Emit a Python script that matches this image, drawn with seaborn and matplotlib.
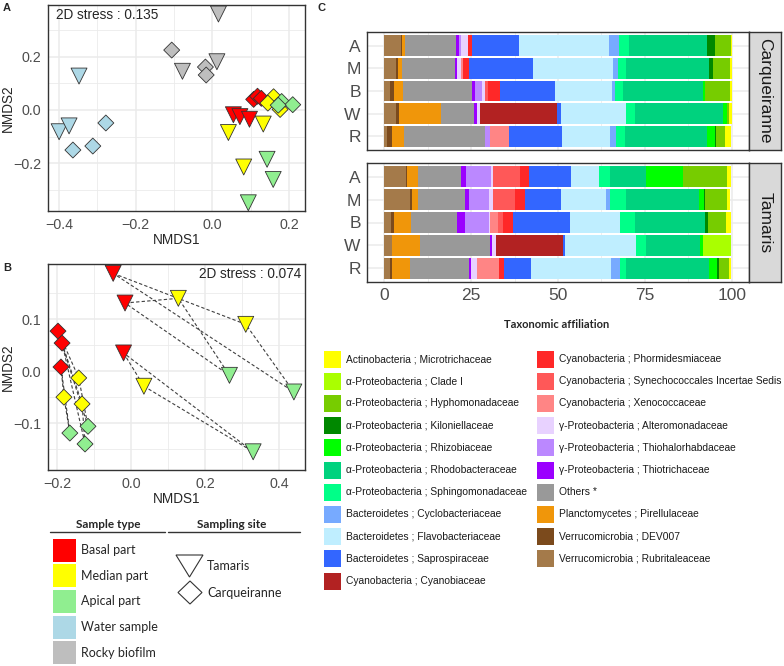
import numpy as np
import pandas as pd
import matplotlib
matplotlib.use("Agg")
import matplotlib.pyplot as plt
from matplotlib.patches import Rectangle, Polygon
import seaborn as sns

# ---------------- data : NMDS panels ----------------
type_names = ["Basal part", "Median part", "Apical part", "Water sample", "Rocky biofilm"]
type_colors = ["#FF0000", "#FFFF00", "#90EE90", "#ADD8E6", "#BEBEBE"]
site_names = ["Tamaris", "Carqueiranne"]

# panel A (all samples)
a_site = ["Tamaris"] * 15 + ["Carqueiranne"] * 15
a_type = [t for t in type_names for _ in range(3)] * 2
a_x = [0.055, 0.072, 0.097, 0.042, 0.133, 0.082, 0.143, 0.159, 0.094,
       -0.348, -0.400, -0.374, 0.016, -0.078, 0.012,
       0.108, 0.118, 0.128, 0.160, 0.145, 0.177, 0.181, 0.210, 0.172,
       -0.364, -0.312, -0.278, -0.106, -0.018, -0.016]
a_y = [-0.018, -0.025, -0.035, -0.085, -0.053, -0.215, -0.186, -0.262, -0.350,
       0.128, -0.082, -0.060, 0.362, 0.146, 0.182,
       0.040, 0.052, 0.044, 0.050, 0.026, 0.002, 0.032, 0.020, 0.018,
       -0.151, -0.136, -0.049, 0.226, 0.162, 0.132]

# panel B (macroalgae parts only), individual id links the parts
b_site = ["Tamaris"] * 9 + ["Carqueiranne"] * 9
b_type = [t for t in type_names[:3] for _ in range(3)] * 2
b_ind = [1, 2, 3] * 6
b_x = [-0.048, -0.016, -0.020, 0.310, 0.128, 0.035, 0.440, 0.266, 0.330,
       -0.197, -0.186, -0.189, -0.141, -0.132, -0.181, -0.116, -0.124, -0.165]
b_y = [0.188, 0.131, 0.035, 0.090, 0.140, -0.029, -0.040, -0.008, -0.155,
       0.077, 0.054, 0.008, -0.013, -0.063, -0.050, -0.106, -0.140, -0.119]

# ---------------- data : taxonomic bars ----------------
taxa = ["Verrucomicrobia ; Rubritaleaceae", "Verrucomicrobia ; DEV007",
        "Planctomycetes ; Pirellulaceae", "Others *",
        "\u03b3-Proteobacteria ; Thiotrichaceae", "\u03b3-Proteobacteria ; Thiohalorhabdaceae",
        "\u03b3-Proteobacteria ; Alteromonadaceae", "Cyanobacteria ; Xenococcaceae",
        "Cyanobacteria ; Synechococcales Incertae Sedis", "Cyanobacteria ; Phormidesmiaceae",
        "Cyanobacteria ; Cyanobiaceae", "Bacteroidetes ; Saprospiraceae",
        "Bacteroidetes ; Flavobacteriaceae", "Bacteroidetes ; Cyclobacteriaceae",
        "\u03b1-Proteobacteria ; Sphingomonadaceae", "\u03b1-Proteobacteria ; Rhodobacteraceae",
        "\u03b1-Proteobacteria ; Rhizobiaceae", "\u03b1-Proteobacteria ; Kiloniellaceae",
        "\u03b1-Proteobacteria ; Hyphomonadaceae", "\u03b1-Proteobacteria ; Clade I",
        "Actinobacteria ; Microtrichaceae"]
taxa_colors = ["#A47A4A", "#7B4A1C", "#F0960A", "#999999",
               "#9B00FF", "#BB88FF", "#E8D2FF", "#FF8585",
               "#FF5858", "#FF2828", "#B22222", "#3366FF",
               "#BFEEFF", "#77AAFF", "#00FF88", "#00D27E",
               "#00FF00", "#008800", "#77CC00", "#AAFF00", "#FFFF00"]
samples = ["A", "M", "B", "W", "R"]

carq_A = [4.9, 0.3, 0.6, 14.9, 0.8, 0.5, 2.1, 0, 0, 1.0, 0, 13.6, 25.9, 2.9, 2.9, 22.5, 0, 2.4, 4.6, 0, 0.1]
carq_M = [3.4, 0.5, 1.3, 15.1, 0.7, 0, 1.2, 0.3, 0, 1.9, 0, 18.4, 23.0, 1.4, 2.4, 23.9, 0, 1.1, 4.9, 0, 0.5]
carq_B = [1.7, 1.0, 2.7, 19.8, 1.0, 1.9, 0.8, 0, 1.0, 3.5, 0, 15.6, 16.5, 1.0, 2.2, 23.0, 0.7, 0, 7.2, 0, 0.4]
carq_W = [3.4, 0.7, 12.3, 9.3, 1.1, 0, 0.8, 0, 0, 0, 22.0, 1.2, 18.9, 0, 2.4, 25.4, 1.2, 0, 0.5, 0, 0.8]
carq_R = [0.8, 1.4, 3.5, 23.3, 0, 1.4, 0, 5.5, 0, 0, 0, 15.3, 13.9, 1.5, 2.8, 23.6, 2.1, 0.5, 2.6, 0, 1.6]
tam_A = [6.2, 0.3, 3.1, 12.5, 1.5, 7.2, 0.4, 0, 7.9, 2.6, 0, 12.1, 7.9, 0, 3.4, 10.1, 10.8, 0, 12.6, 0, 1.2]
tam_M = [7.5, 0.5, 1.6, 13.7, 1.2, 5.7, 1.0, 0, 6.4, 2.9, 0, 10.5, 12.7, 1.3, 4.6, 21.1, 1.4, 0.3, 6.4, 0, 0.8]
tam_B = [1.9, 1.0, 4.8, 13.2, 2.4, 6.7, 0.3, 2.4, 1.4, 2.9, 0, 16.5, 14.4, 0, 4.3, 20.1, 0, 1.0, 5.0, 0, 1.5]
tam_W = [2.2, 0, 8.0, 20.3, 0.5, 0, 1.2, 0, 0, 0, 19.3, 0.5, 20.6, 0, 2.6, 15.6, 1.0, 0, 0, 8.0, 0]
tam_R = [1.7, 0.5, 5.1, 17.2, 0.4, 0, 1.7, 6.5, 0, 1.3, 0, 7.8, 23.2, 2.4, 1.9, 23.7, 2.4, 0.5, 3.0, 0, 0.6]

# ---------------- figure ----------------
sns.set_style("white")
plt.rcParams['font.family'] = ['Liberation Sans', 'DejaVu Sans']
W, H = 784, 666
fig = plt.figure(figsize=(W / 100, H / 100), dpi=100)


def px_box(l, t, r, b):
    # pixel box -> figure fraction
    return [l / W, 1 - b / H, (r - l) / W, (b - t) / H]


# background axes in pixel coords for legends and labels
bg = fig.add_axes([0, 0, 1, 1])
bg.set_xlim(0, W)
bg.set_ylim(H, 0)
bg.axis('off')

pal = dict(zip(type_names, type_colors))
edge = "#333333"
tick_gray = "#4D4D4D"


def minus(v):
    return f"{v:.1f}".replace("-", "\u2212")


def style_nmds(ax, xt, yt, xmin, ymin, xlim, ylim):
    ax.set_xlim(xlim)
    ax.set_ylim(ylim)
    ax.set_xticks(xt)
    ax.set_yticks(yt)
    ax.set_xticks(xmin, minor=True)
    ax.set_yticks(ymin, minor=True)
    ax.set_xticklabels([minus(v) for v in xt])
    ax.set_yticklabels([minus(v) for v in yt])
    ax.grid(True, which='major', color='#EBEBEB', lw=1.1)
    ax.grid(True, which='minor', color='#EBEBEB', lw=0.6)
    ax.tick_params(which='minor', length=0)
    ax.tick_params(which='major', length=3, width=0.9, color=edge,
                   labelsize=10.3, labelcolor=tick_gray, pad=2)
    for s in ax.spines.values():
        s.set_color(edge)
        s.set_linewidth(1.0)
    ax.set_axisbelow(True)
    ax.set_xlabel("NMDS1", fontsize=9.8, labelpad=1)
    ax.set_ylabel("NMDS2", fontsize=9.8)
    ax.yaxis.set_label_coords(-0.128, 0.5)


def draw_points(ax, df):
    for site, mk, sz in [("Tamaris", "v", 132), ("Carqueiranne", "D", 66)]:
        sub = df[df["site"] == site]
        sns.scatterplot(data=sub, x="x", y="y", hue="type", palette=pal,
                        marker=mk, s=sz, edgecolor=edge, linewidth=0.6,
                        legend=False, ax=ax, zorder=4)


# ----- panel A
axA = fig.add_axes(px_box(48, 5, 305, 211))
dfa = pd.DataFrame({"x": a_x, "y": a_y, "type": a_type, "site": a_site})
draw_points(axA, dfa)
style_nmds(axA, [-0.4, -0.2, 0.0, 0.2], [-0.2, 0.0, 0.2],
           [-0.3, -0.1, 0.1], [-0.3, -0.1, 0.1, 0.3],
           (-0.429, 0.242), (-0.381, 0.396))
axA.text(0.03, 0.95, "2D stress : 0.135", transform=axA.transAxes,
         fontsize=9.8, va='center', ha='left')

# ----- panel B
axB = fig.add_axes(px_box(48, 264, 305, 470))
dfb = pd.DataFrame({"x": b_x, "y": b_y, "type": b_type, "site": b_site, "ind": b_ind})
for (site, ind), g in dfb.groupby(["site", "ind"]):
    xs = list(g["x"]) + [g["x"].iloc[0]]
    ys = list(g["y"]) + [g["y"].iloc[0]]
    axB.plot(xs, ys, ls=(0, (3, 2)), color="#404040", lw=0.8, zorder=2)
draw_points(axB, dfb)
style_nmds(axB, [-0.2, 0.0, 0.2, 0.4], [-0.1, 0.0, 0.1],
           [-0.1, 0.1, 0.3], [-0.15, -0.05, 0.05, 0.15],
           (-0.224, 0.47), (-0.19, 0.206))
axB.text(0.985, 0.95, "2D stress : 0.074", transform=axB.transAxes,
         fontsize=9.8, va='center', ha='right')

# ----- panel C
bars = {"Carqueiranne": [carq_A, carq_M, carq_B, carq_W, carq_R],
        "Tamaris": [tam_A, tam_M, tam_B, tam_W, tam_R]}
boxes = {"Carqueiranne": (367, 32, 749, 150), "Tamaris": (367, 163, 749, 282)}
for site in ["Carqueiranne", "Tamaris"]:
    l, t, r, b = boxes[site]
    ax = fig.add_axes(px_box(l, t, r, b))
    vals = np.array(bars[site])
    left = np.zeros(len(samples))
    for k, name in enumerate(taxa):
        ax.barh(np.arange(len(samples)), vals[:, k], left=left, height=0.9,
                color=taxa_colors[k], linewidth=0, zorder=3)
        left += vals[:, k]
    ax.set_xlim(-5, 105)
    ax.set_ylim(len(samples) - 0.4, -0.6)
    ax.set_yticks(range(len(samples)))
    ax.set_yticklabels(samples)
    ax.set_xticks([0, 25, 50, 75, 100])
    ax.set_xticks([12.5, 37.5, 62.5, 87.5], minor=True)
    ax.grid(True, which='major', color='#EBEBEB', lw=1.1)
    ax.grid(True, which='minor', axis='x', color='#EBEBEB', lw=0.6)
    ax.set_axisbelow(True)
    ax.tick_params(which='minor', length=0)
    ax.tick_params(which='major', length=3, width=0.9, color=edge,
                   labelsize=12.5, labelcolor=tick_gray, pad=1.5)
    for s in ax.spines.values():
        s.set_color(edge)
        s.set_linewidth(1.0)
    if site == "Carqueiranne":
        ax.set_xticklabels([])
        ax.tick_params(axis='x', length=0)
    # facet strip
    st = fig.add_axes(px_box(749, t, 781, b))
    st.set_facecolor("#D9D9D9")
    st.set_xticks([])
    st.set_yticks([])
    for s in st.spines.values():
        s.set_color(edge)
        s.set_linewidth(1.0)
    st.text(0.5, 0.5, site, rotation=270, ha='center', va='center',
            fontsize=12.5, color="#1A1A1A", transform=st.transAxes)

bg.text(557, 325, "Taxonomic affiliation", fontsize=8, fontweight='bold',
        family=['Lato', 'DejaVu Sans'], ha='center', va='center')

# legend of panel C (two columns, legend order = reverse of stacking)
leg_names = taxa[::-1]
leg_cols = taxa_colors[::-1]
col_x = [324, 537]
for i, (name, c) in enumerate(zip(leg_names, leg_cols)):
    col = 0 if i < 11 else 1
    row = i if i < 11 else i - 11
    y = 359 + 22.2 * row
    bg.add_patch(Rectangle((col_x[col], y - 8.5), 17, 17, facecolor=c, edgecolor='none'))
    bg.text(col_x[col] + 22, y, name, fontsize=7.4, va='center', ha='left', color="#1A1A1A")

# legend of panels A/B
lfont = ['Lato', 'DejaVu Sans']
bg.text(108, 524, "Sample type", fontsize=8.5, fontweight='bold', family=lfont,
        ha='center', va='center')
bg.plot([50, 165], [532, 532], color=edge, lw=1)
bg.text(232, 524, "Sampling site", fontsize=8.5, fontweight='bold', family=lfont,
        ha='center', va='center')
bg.plot([168, 300], [532, 532], color=edge, lw=1)
for i, (name, c) in enumerate(zip(type_names, type_colors)):
    y = 550 + 25.7 * i
    bg.add_patch(Rectangle((53, y - 11.5), 23, 23, facecolor=c, edgecolor='none'))
    bg.text(81, y, name, fontsize=9, family=lfont, va='center', ha='left')
bg.add_patch(Polygon([(176, 555), (203, 555), (189.5, 577)], closed=True,
                     facecolor='white', edgecolor=edge, lw=0.8))
bg.add_patch(Polygon([(190, 581), (202, 592.5), (190, 604), (178, 592.5)], closed=True,
                     facecolor='white', edgecolor=edge, lw=0.8))
bg.text(207, 566, "Tamaris", fontsize=9, family=lfont, va='center', ha='left')
bg.text(207, 593, "Carqueiranne", fontsize=9, family=lfont, va='center', ha='left')

# panel letters
for lab, x, y in [("A", 3, 8), ("B", 3, 268), ("C", 318, 8)]:
    bg.text(x, y, lab, fontsize=8, fontweight='bold', va='center', ha='left')

fig.savefig("out.png", dpi=100)
